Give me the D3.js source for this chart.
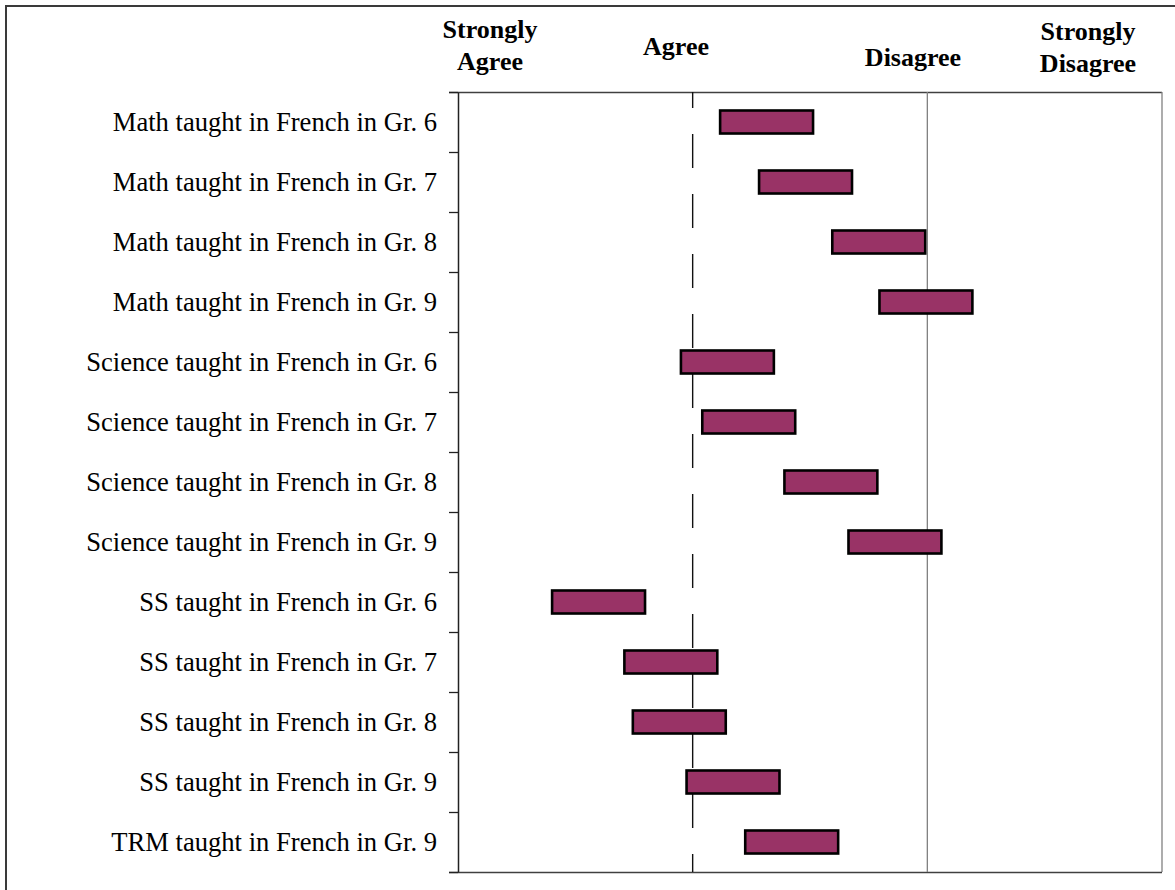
<!DOCTYPE html>
<html>
<head>
<meta charset="utf-8">
<script src="https://cdn.jsdelivr.net/npm/d3@7"></script>
<style>
  body { margin: 0; background: #fff; }
  svg { display: block; font-family: "Liberation Serif", "Times New Roman", serif; }
</style>
</head>
<body>
<svg id="chart"></svg>
<script>
// categories, top to bottom
const categorias = [
  "Math taught in French in Gr. 6",
  "Math taught in French in Gr. 7",
  "Math taught in French in Gr. 8",
  "Math taught in French in Gr. 9",
  "Science taught in French in Gr. 6",
  "Science taught in French in Gr. 7",
  "Science taught in French in Gr. 8",
  "Science taught in French in Gr. 9",
  "SS taught in French in Gr. 6",
  "SS taught in French in Gr. 7",
  "SS taught in French in Gr. 8",
  "SS taught in French in Gr. 9",
  "TRM taught in French in Gr. 9"
];

// floating bars: start and end on the 1-4 scale
const inicio = [2.117, 2.283, 2.595, 2.796, 1.950, 2.041, 2.391, 2.664, 1.401, 1.709, 1.745, 1.974, 2.224];
const fin    = [2.513, 2.679, 2.991, 3.192, 2.346, 2.437, 2.787, 3.060, 1.797, 2.105, 2.141, 2.370, 2.620];

// scale labels along the top
const etiquetas = [
  ["Strongly", "Agree"],
  ["Agree"],
  ["Disagree"],
  ["Strongly", "Disagree"]
];

const width = 1175, height = 890;
const svg = d3.select("#chart").attr("width", width).attr("height", height);

const x = d3.scaleLinear().domain([1, 4]).range([458, 1162]);
const y = d3.scaleBand().domain(categorias).range([92, 872]).paddingInner(0);

// outer frame (right and bottom run off the picture)
svg.append("rect")
  .attr("x", 6).attr("y", 6)
  .attr("width", 1200).attr("height", 900)
  .attr("fill", "none")
  .attr("stroke", "#3a3a3a")
  .attr("stroke-width", 2);

// plot area border
svg.append("line")
  .attr("x1", 449).attr("x2", x(4))
  .attr("y1", 92.5).attr("y2", 92.5)
  .attr("stroke", "#404040").attr("stroke-width", 1.5);
svg.append("line")
  .attr("x1", x(4)).attr("x2", x(4))
  .attr("y1", 92).attr("y2", 872)
  .attr("stroke", "#808080").attr("stroke-width", 1.3);
svg.append("line")
  .attr("x1", 449).attr("x2", x(4))
  .attr("y1", 872.5).attr("y2", 872.5)
  .attr("stroke", "#404040").attr("stroke-width", 1.5);

// reference lines at Agree (dashed) and Disagree (solid)
svg.append("line")
  .attr("x1", x(2)).attr("x2", x(2))
  .attr("y1", 92).attr("y2", 872)
  .attr("stroke", "#111").attr("stroke-width", 1.4)
  .attr("stroke-dasharray", "34,26")
  .attr("stroke-dashoffset", 18);
svg.append("line")
  .attr("x1", x(3)).attr("x2", x(3))
  .attr("y1", 92).attr("y2", 872)
  .attr("stroke", "#808080").attr("stroke-width", 1.3);

// category axis
const ejeY = d3.axisLeft(y).tickSize(0).tickPadding(21);
const gY = svg.append("g")
  .attr("transform", `translate(${x(1)},0)`)
  .call(ejeY);
gY.select(".domain").attr("stroke", "#222").attr("stroke-width", 1.5);
gY.selectAll(".tick text")
  .attr("font-family", "Liberation Serif")
  .attr("font-size", 26.6)
  .attr("fill", "#000")
  .attr("dy", "0.32em");

// tick marks between categories
const limites = categorias.map(c => y(c)).concat([y.range()[1]]);
svg.append("g")
  .selectAll("line")
  .data(limites)
  .enter().append("line")
  .attr("x1", 449).attr("x2", x(1))
  .attr("y1", d => d + 0.5).attr("y2", d => d + 0.5)
  .attr("stroke", "#222").attr("stroke-width", 1.3);

// bars
const barH = 23;
svg.append("g")
  .selectAll("rect")
  .data(categorias)
  .enter().append("rect")
  .attr("x", (d, i) => x(inicio[i]))
  .attr("width", (d, i) => x(fin[i]) - x(inicio[i]))
  .attr("y", d => y(d) + y.bandwidth() / 2 - barH / 2)
  .attr("height", barH)
  .attr("fill", "#993366")
  .attr("stroke", "#000")
  .attr("stroke-width", 2.6);

// header labels
const posEtiquetas = [
  { cx: 490, base: 38 },
  { cx: 676, base: 55 },
  { cx: 913, base: 66 },
  { cx: 1088, base: 40 }
];
etiquetas.forEach((lineas, i) => {
  const t = svg.append("text")
    .attr("text-anchor", "middle")
    .attr("font-weight", "bold")
    .attr("font-size", 26)
    .attr("fill", "#000");
  lineas.forEach((l, j) => {
    t.append("tspan")
      .attr("x", posEtiquetas[i].cx)
      .attr("y", posEtiquetas[i].base + j * 32)
      .text(l);
  });
});
</script>
</body>
</html>
